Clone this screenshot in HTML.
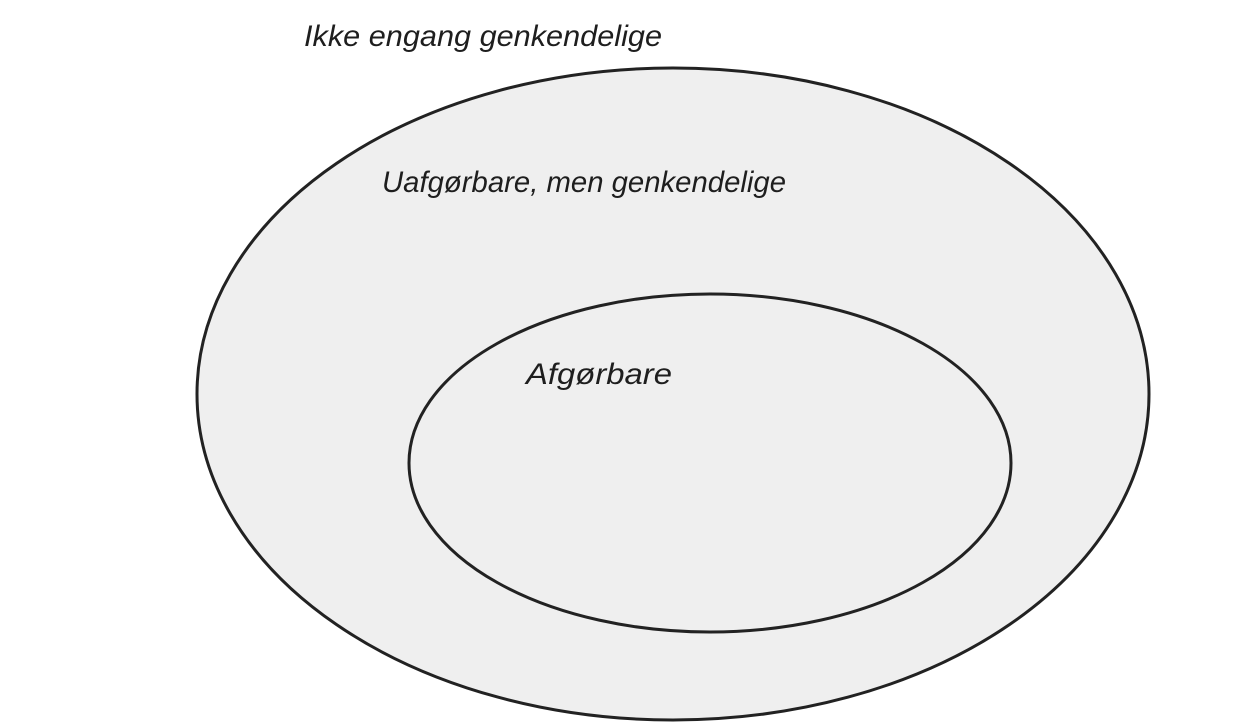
<!DOCTYPE html>
<html><head><meta charset="utf-8"><style>
html,body{margin:0;padding:0;background:#fff;}
svg{display:block;}
text{font-family:"Liberation Sans",sans-serif;fill:#1e1e1e;font-style:italic;}
</style></head><body>
<svg width="1233" height="727" viewBox="0 0 1233 727">
<rect width="1233" height="727" fill="#fff"/>
<ellipse cx="673" cy="394" rx="476" ry="326" fill="#efefef" stroke="#222" stroke-width="3"/>
<ellipse cx="710" cy="463" rx="301" ry="169" fill="#efefef" stroke="#222" stroke-width="3"/>
<text x="304" y="46" font-size="30" textLength="358" lengthAdjust="spacingAndGlyphs">Ikke engang genkendelige</text>
<text x="382" y="192" font-size="30" textLength="404" lengthAdjust="spacingAndGlyphs">Uafgørbare, men genkendelige</text>
<text x="526" y="384" font-size="30" textLength="146" lengthAdjust="spacingAndGlyphs">Afgørbare</text>
</svg>
</body></html>
